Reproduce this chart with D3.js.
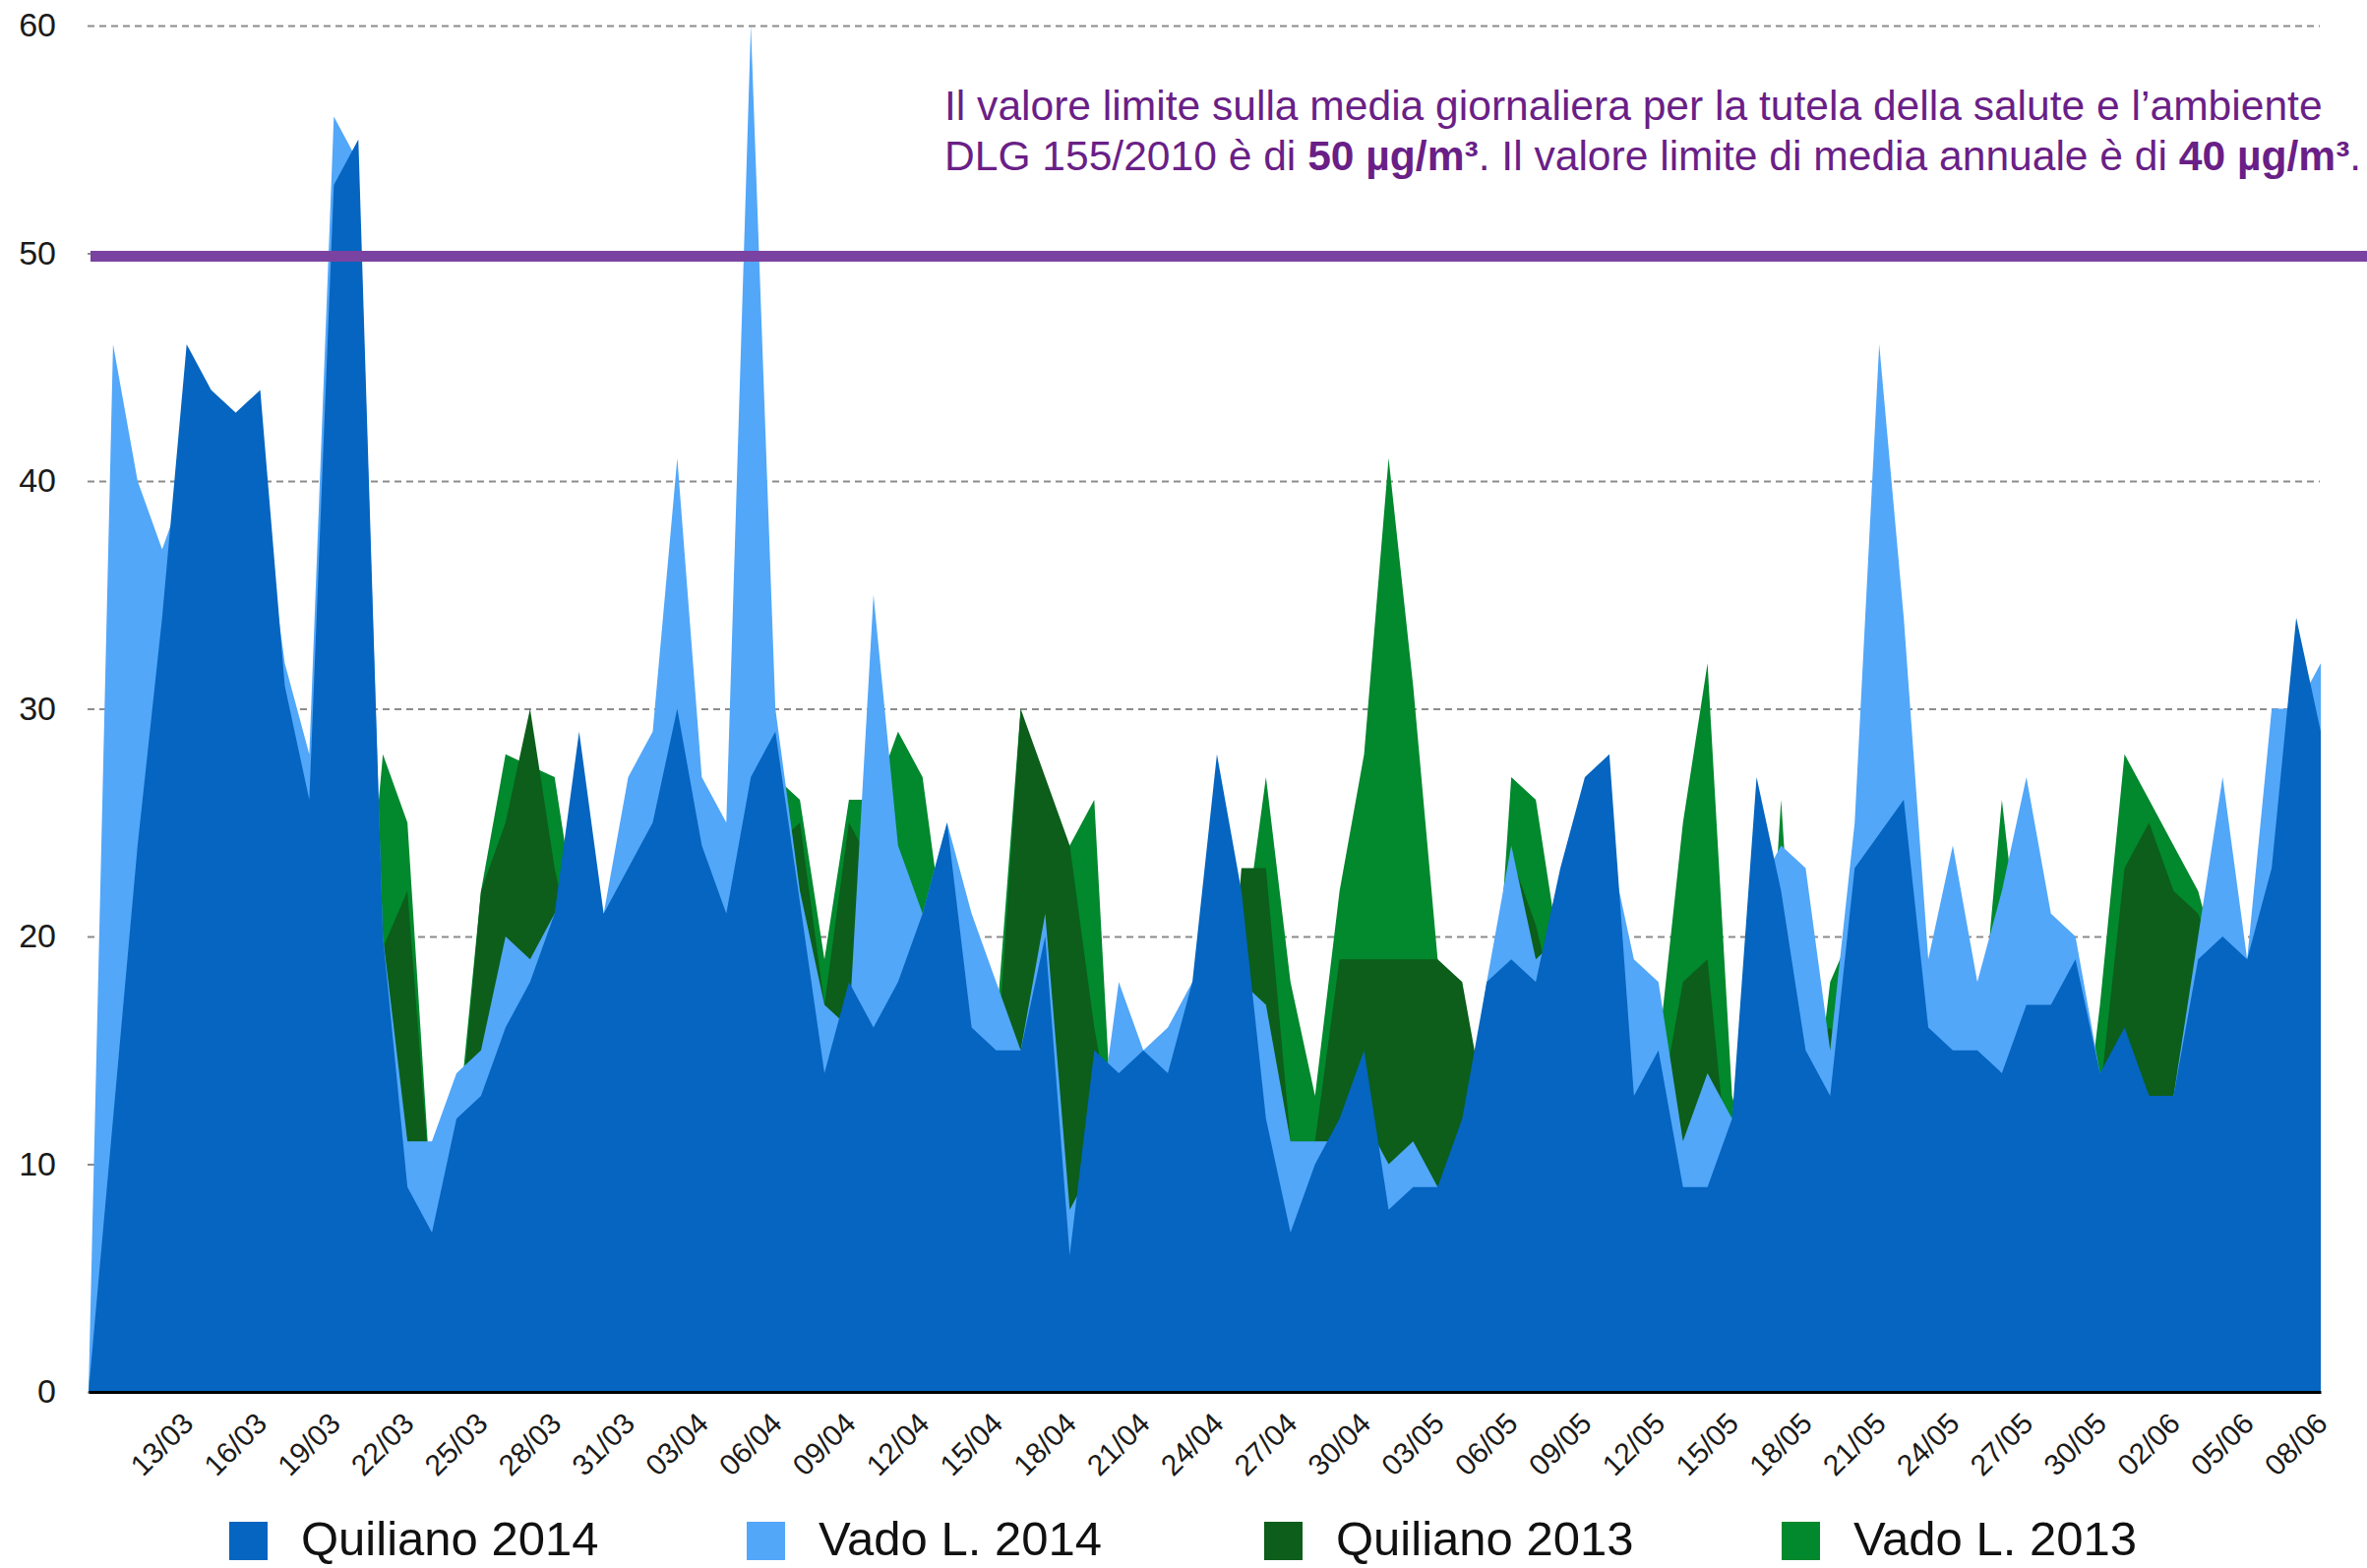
<!DOCTYPE html>
<html>

<head>
    <meta charset="utf-8" />
    <title>PM10 Quiliano - Vado L. 2013/2014</title>
    <script src="https://d3js.org/d3.v7.min.js"></script>
    <style>
        body { margin: 0; background: #ffffff; }
        svg { display: block; }
    </style>
</head>

<body>
    <script type="text/javascript">
        // giorni dal 09/03 al 08/06
        var dates = [
            '09/03', '10/03', '11/03', '12/03', '13/03', '14/03', '15/03', '16/03', '17/03', '18/03',
            '19/03', '20/03', '21/03', '22/03', '23/03', '24/03', '25/03', '26/03', '27/03', '28/03',
            '29/03', '30/03', '31/03',
            '01/04', '02/04', '03/04', '04/04', '05/04', '06/04', '07/04', '08/04', '09/04', '10/04',
            '11/04', '12/04', '13/04', '14/04', '15/04', '16/04', '17/04', '18/04', '19/04', '20/04',
            '21/04', '22/04', '23/04', '24/04', '25/04', '26/04', '27/04', '28/04', '29/04', '30/04',
            '01/05', '02/05', '03/05', '04/05', '05/05', '06/05', '07/05', '08/05', '09/05', '10/05',
            '11/05', '12/05', '13/05', '14/05', '15/05', '16/05', '17/05', '18/05', '19/05', '20/05',
            '21/05', '22/05', '23/05', '24/05', '25/05', '26/05', '27/05', '28/05', '29/05', '30/05',
            '31/05',
            '01/06', '02/06', '03/06', '04/06', '05/06', '06/06', '07/06', '08/06'
        ];

        var tickLabels = [
            '13/03', '16/03', '19/03', '22/03', '25/03', '28/03', '31/03', '03/04', '06/04', '09/04',
            '12/04', '15/04', '18/04', '21/04', '24/04', '27/04', '30/04', '03/05', '06/05', '09/05',
            '12/05', '15/05', '18/05', '21/05', '24/05', '27/05', '30/05', '02/06', '05/06', '08/06'
        ];

        var yTicks = [0, 10, 20, 30, 40, 50, 60];

        var quiliano2014 = [
            0, 12, 24, 34, 46, 44, 43, 44, 31, 26,
            53, 55, 20, 9, 7, 12, 13, 16, 18, 21,
            29, 21, 23, 25, 30, 24, 21, 27, 29, 21.5,
            14, 18, 16, 18, 21, 25, 16, 15, 15, 20,
            6, 15, 14, 15, 14, 18, 28, 22, 12, 7,
            10, 12, 15, 8, 9, 9, 12, 18, 19, 18,
            23, 27, 28, 13, 15, 9, 9, 12, 27, 22,
            15, 13, 23, 24.5, 26, 16, 15, 15, 14, 17,
            17, 19, 14, 16, 13, 13, 19, 20, 19, 23,
            34, 29
        ];

        var vado2014 = [
            0, 46, 40, 37, 40, 40, 38, 40, 32, 28,
            56, 54, 20, 11, 11, 14, 15, 20, 19, 21,
            21, 21, 27, 29, 41, 27, 25, 60, 30, 22,
            17, 16, 35, 24, 21, 25, 21, 18, 15, 21,
            8, 10, 18, 15, 16, 18, 20, 18, 17, 11,
            11, 11, 12, 10, 11, 9, 11, 18, 24, 19,
            20, 22, 24, 19, 18, 11, 14, 12, 22, 24,
            23, 15, 25, 46, 34, 19, 24, 18, 22, 27,
            21, 20, 14, 15, 13, 13, 20, 27, 19, 30,
            30, 32
        ];

        var quiliano2013 = [
            0, 15, 17, 19, 21, 20, 19, 17, 16, 15,
            19, 18, 19.5, 22, 8, 10, 22, 25, 30, 23,
            18, 16, 18, 20, 22, 20, 18, 22, 24, 25,
            17, 25, 23, 20, 17, 18, 16, 14, 30, 27,
            24, 16, 10, 12, 12, 14, 10, 23, 23, 11,
            11, 19, 19, 19, 19, 19, 18, 12, 23.5, 20.5,
            16, 18, 16, 14, 12, 18, 19, 8, 15, 16,
            15, 16, 14, 20, 20, 15, 14, 14, 13, 15,
            15, 16, 13, 23, 25, 22, 21, 18, 16, 18,
            20, 20
        ];

        var vado2013 = [
            0, 18, 20, 22, 25, 24, 22, 20, 19, 18,
            22, 16, 28, 25, 8, 11, 22, 28, 27.5, 27,
            20, 18, 20, 22, 20, 19, 20, 24, 27, 26,
            19, 26, 26, 29, 27, 19, 17, 16, 30, 24,
            24, 26, 6, 10, 12, 15, 18, 19, 27, 18,
            13, 22, 28, 41, 31, 19, 15, 11, 27, 26,
            19, 20, 20, 14, 15, 25, 32, 13, 9, 26,
            9, 18, 20.5, 20, 22, 15, 16, 14, 26, 16.5,
            15, 8, 17, 28, 26, 24, 22, 18, 15, 16,
            17, 17
        ];

        var seriesNames = ['Quiliano 2014', 'Vado L. 2014', 'Quiliano 2013', 'Vado L. 2013'];
        var seriesColors = ['#0565c0', '#52a7f9', '#0c5e1a', '#02882d'];
        var limitValue = 50;

        var width = 2406;
        var height = 1594;
        var font = '"Liberation Sans", Arial, Helvetica, sans-serif';

        var svg = d3.select('body')
            .append('svg')
            .attr('width', width)
            .attr('height', height)
            .style('background', '#ffffff');

        var x = d3.scalePoint()
            .domain(dates)
            .range([90, 2359]);

        var y = d3.scaleLinear()
            .domain([0, 60])
            .range([1415, 26]);

        // griglia tratteggiata + etichette asse y
        svg.append('g')
            .attr('transform', 'translate(89,0)')
            .call(d3.axisLeft(y)
                .tickValues(yTicks)
                .tickSize(-2269)
                .tickPadding(32)
                .tickFormat(d3.format('d')))
            .attr('font-family', font)
            .attr('font-size', 34)
            .call(g => g.select('.domain').remove())
            .call(g => g.selectAll('line')
                .attr('stroke', '#8c8c8c')
                .attr('stroke-width', 2)
                .attr('stroke-dasharray', '7,5'))
            .call(g => g.selectAll('text').attr('fill', '#1a1a1a'));

        // aree: dal fondo verso il primo piano
        var layers = [
            { values: vado2013, color: seriesColors[3] },
            { values: quiliano2013, color: seriesColors[2] },
            { values: vado2014, color: seriesColors[1] },
            { values: quiliano2014, color: seriesColors[0] }
        ];

        var area = d3.area()
            .x(function (d, i) { return x(dates[i]); })
            .y0(y(0))
            .y1(function (d) { return y(d); });

        svg.selectAll('.layer')
            .data(layers)
            .enter()
            .append('path')
            .attr('class', 'layer')
            .attr('d', function (d) { return area(d.values); })
            .attr('fill', function (d) { return d.color; });

        // asse x
        svg.append('g')
            .attr('transform', 'translate(0,' + y(0) + ')')
            .call(d3.axisBottom(x)
                .tickValues(tickLabels)
                .tickSize(0)
                .tickSizeOuter(0))
            .attr('font-family', font)
            .attr('font-size', 30)
            .call(g => g.select('.domain')
                .attr('stroke', '#000000')
                .attr('stroke-width', 3))
            .call(g => g.selectAll('text')
                .attr('fill', '#1a1a1a')
                .attr('x', 0)
                .attr('y', 0)
                .attr('dy', 0)
                .attr('text-anchor', 'end')
                .attr('transform', 'translate(8,34) rotate(-45)'));

        // valore limite (la barra nel grafico originale sta appena sotto la riga del 50)
        svg.append('line')
            .attr('x1', 92)
            .attr('x2', width)
            .attr('y1', y(limitValue) + 3)
            .attr('y2', y(limitValue) + 3)
            .attr('stroke', '#7b43a1')
            .attr('stroke-width', 11);

        var note = svg.append('text')
            .attr('font-family', font)
            .attr('fill', '#6a1f87')
            .attr('font-size', 40);

        note.append('tspan')
            .attr('x', 960).attr('y', 122)
            .text('Il valore limite sulla media giornaliera per la tutela della salute e l\u2019ambiente');

        var l2 = note.append('tspan').attr('x', 960).attr('y', 173);
        l2.append('tspan').text('DLG 155/2010 è di ');
        l2.append('tspan').attr('font-weight', 'bold').text('50 µg/m³');
        note.append('tspan').text('. Il valore limite di media annuale è di ');
        note.append('tspan').attr('font-weight', 'bold').text('40 µg/m³');
        note.append('tspan').text('.');

        // adatta la dimensione alla larghezza della prima riga
        var first = note.select('tspan').node().getComputedTextLength();
        note.attr('font-size', 40 * 1401 / first);

        // legenda
        var legend = svg.selectAll('.legend')
            .data(seriesNames)
            .enter()
            .append('g')
            .attr('class', 'legend')
            .attr('transform', function (d, i) { return 'translate(' + (233 + i * 526) + ',0)'; });

        legend.append('rect')
            .attr('x', 0)
            .attr('y', 1547)
            .attr('width', 39)
            .attr('height', 39)
            .attr('fill', function (d, i) { return seriesColors[i]; });

        legend.append('text')
            .attr('x', 73)
            .attr('y', 1581)
            .attr('font-family', font)
            .attr('font-size', 49)
            .attr('fill', '#111111')
            .text(function (d) { return d; });
    </script>

</body>

</html>
